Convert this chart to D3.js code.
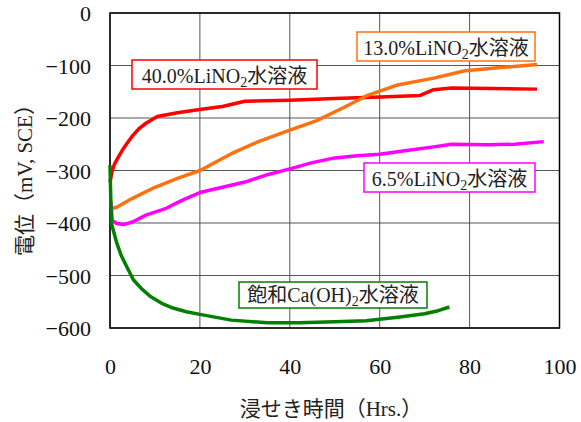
<!DOCTYPE html>
<head>
    <meta charset="utf-8">
    <title>浸せき時間と電位</title>
    <script src="https://d3js.org/d3.v7.min.js"></script>
    <style>
    body { margin: 0; background: #fff; }
    </style>
</head>
<body>
<script>
// values: [hours, mV]
var li40 = [[0,-322],[0.5,-300],[1,-288],[2,-272],[3,-258],[3.8,-248],[5,-234],[6.5,-220],[8,-210],[10.5,-197],
            [15,-190],[20,-184],[25,-178],[30,-168],[40,-166],[50,-163],[60,-160],[69,-157],[72,-146],[76,-143],
            [85,-144],[95,-145]];
var li13 = [[0.6,-372],[1.5,-370],[5,-353],[10,-332],[15,-315],[20,-300],[27,-268],[33,-245],[40,-223],[46,-205],
            [52,-180],[57,-158],[64,-137],[72,-124],[79,-110],[87,-104],[95,-98]];
var li65 = [[0.2,-360],[0.5,-395],[1.5,-401],[3,-403],[5,-398],[8,-385],[12.5,-372],[16,-357],[20,-342],[25,-332],
            [30,-322],[35,-308],[40,-297],[45,-285],[50,-276],[55,-272],[60,-269],[66,-262],[72,-255],[76,-250],
            [84,-251],[90,-250],[96.5,-245]];
var caoh = [[0,-290],[0.3,-400],[1.5,-438],[2.5,-462],[3.7,-483],[5.2,-508],[7,-525],[9,-540],[11.5,-553],[14,-562],
            [17,-569],[20,-574],[27,-585],[35,-590],[42,-590],[50,-588],[57,-586],[64.5,-579],[70,-573],[73,-567],
            [75.5,-560]];

var xTicks = [0, 20, 40, 60, 80, 100];
var yTicks = [0, -100, -200, -300, -400, -500, -600];

var series = [
    {name: "40.0%LiNO", rest: "水溶液", data: li40, color: "#ff0000", box: [132, 60, 185, 29]},
    {name: "13.0%LiNO", rest: "水溶液", data: li13, color: "#ff7010", box: [357, 32, 178, 29]},
    {name: "6.5%LiNO",  rest: "水溶液", data: li65, color: "#ff00ff", box: [364, 163, 171, 29]},
    {name: "飽和Ca(OH)", rest: "水溶液", data: caoh, color: "#008000", box: [239, 282, 188, 26]}
];

var serif = "'Liberation Serif', 'Noto Sans CJK JP', serif";
var width = 581, height = 422;
var x = d3.scaleLinear().domain([0, 100]).range([110, 559.5]);
var y = d3.scaleLinear().domain([-600, 0]).range([328, 13]);

var svg = d3.select("body").append("svg")
    .attr("width", width)
    .attr("height", height);

// grid
svg.append("g").selectAll("line")
    .data(yTicks).enter().append("line")
    .attr("x1", x(0)).attr("x2", x(100))
    .attr("y1", function(d) { return y(d); }).attr("y2", function(d) { return y(d); })
    .attr("stroke", "#555").attr("stroke-width", 1);
svg.append("g").selectAll("line")
    .data(xTicks).enter().append("line")
    .attr("y1", y(0)).attr("y2", y(-600))
    .attr("x1", function(d) { return x(d); }).attr("x2", function(d) { return x(d); })
    .attr("stroke", "#555").attr("stroke-width", 1);

// frame
svg.append("rect")
    .attr("x", x(0)).attr("y", y(0))
    .attr("width", x(100) - x(0)).attr("height", y(-600) - y(0))
    .attr("fill", "none").attr("stroke", "#000").attr("stroke-width", 1.5);

// tick labels
var yAxis = svg.append("g")
    .attr("transform", "translate(" + (x(0) - 19) + ",0)")
    .call(d3.axisLeft(y).tickValues(yTicks).tickSize(0).tickPadding(0));
var xAxis = svg.append("g")
    .attr("transform", "translate(0," + (y(-600) + 30) + ")")
    .call(d3.axisBottom(x).tickValues(xTicks).tickSize(0).tickPadding(0));
svg.selectAll(".domain").remove();
yAxis.selectAll("text").style("font-family", serif).style("font-size", "22px").style("fill", "#111").attr("dy", "0.35em");
xAxis.selectAll("text").style("font-family", serif).style("font-size", "22px").style("fill", "#111").attr("dy", "0.71em");

svg.append("text")
    .attr("x", 331).attr("y", 416)
    .attr("text-anchor", "middle")
    .style("font-family", serif).style("font-size", "21px").style("fill", "#222")
    .text("浸せき時間（Hrs.）");

svg.append("text")
    .attr("transform", "translate(32,175) rotate(-90)")
    .attr("text-anchor", "middle")
    .style("font-family", serif).style("font-size", "21px").style("fill", "#222")
    .text("電位（mV, SCE）");

// lines
var line = d3.line()
    .x(function(d) { return x(d[0]); })
    .y(function(d) { return y(d[1]); });

svg.append("g").selectAll("path")
    .data(series).enter().append("path")
    .attr("d", function(d) { return line(d.data); })
    .attr("fill", "none")
    .attr("stroke", function(d) { return d.color; })
    .attr("stroke-width", 3.5)
    .attr("stroke-linejoin", "round");

// labels
var lab = svg.append("g").selectAll("g")
    .data(series).enter().append("g");
lab.append("rect")
    .attr("x", function(d) { return d.box[0]; })
    .attr("y", function(d) { return d.box[1]; })
    .attr("width", function(d) { return d.box[2]; })
    .attr("height", function(d) { return d.box[3]; })
    .attr("fill", "#fff")
    .attr("stroke", function(d) { return d.color; })
    .attr("stroke-width", 1.5);
var t = lab.append("text")
    .attr("x", function(d) { return d.box[0] + d.box[2] / 2; })
    .attr("y", function(d) { return d.box[1] + d.box[3] - 6; })
    .attr("text-anchor", "middle")
    .style("font-family", serif).style("font-size", "20px").style("fill", "#222");
t.append("tspan").text(function(d) { return d.name; });
t.append("tspan").style("font-size", "14px").attr("dy", 4).text("2");
t.append("tspan").attr("dy", -4).text(function(d) { return d.rest; });
</script>
</body>
